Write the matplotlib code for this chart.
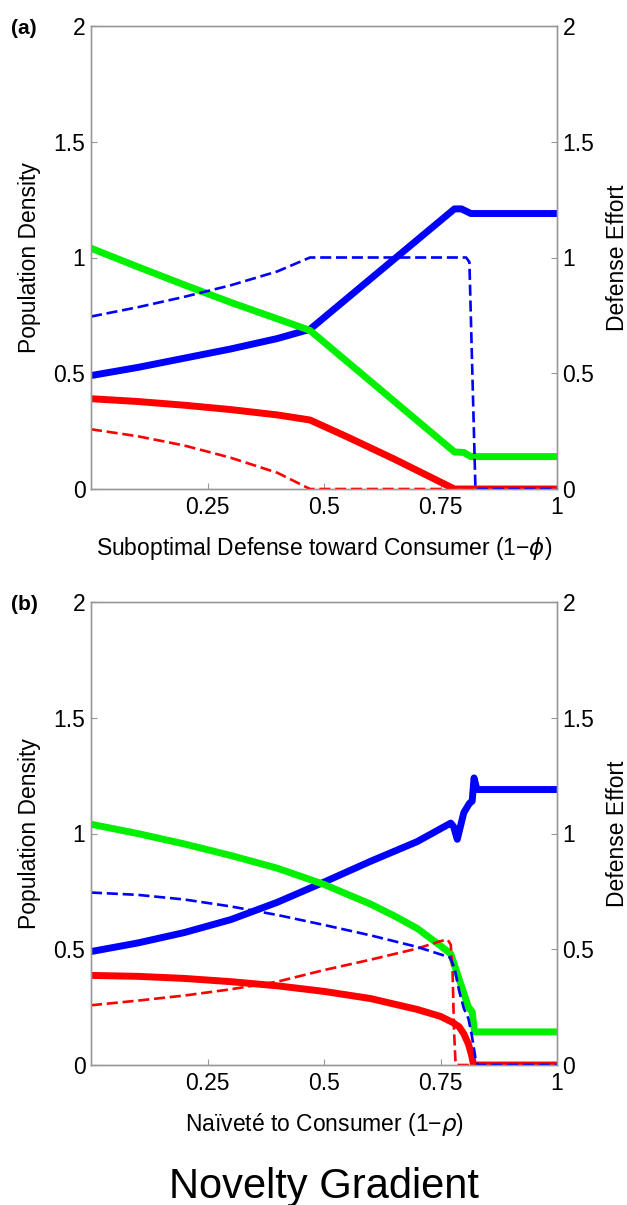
import numpy as np
import matplotlib
matplotlib.use("Agg")
import matplotlib.pyplot as plt

plt.rcParams['font.family'] = ['Liberation Sans', 'DejaVu Sans']

# panel (a): suboptimal defense gradient
xa_blue = [0, 0.1, 0.2, 0.3, 0.4, 0.47, 0.78, 0.795, 0.815, 1]
ya_blue = [0.49, 0.525, 0.565, 0.605, 0.65, 0.69, 1.21, 1.21, 1.19, 1.19]
xa_green = [0, 0.1, 0.2, 0.3, 0.4, 0.47, 0.78, 0.80, 0.815, 1]
ya_green = [1.04, 0.96, 0.882, 0.806, 0.735, 0.685, 0.16, 0.158, 0.14, 0.14]
xa_red = [0, 0.1, 0.2, 0.3, 0.4, 0.47, 0.55, 0.65, 0.78, 1]
ya_red = [0.39, 0.378, 0.362, 0.343, 0.32, 0.298, 0.225, 0.13, 0.0, 0.0]
xa_red_d = [0, 0.1, 0.2, 0.3, 0.4, 0.47, 1]
ya_red_d = [0.258, 0.228, 0.188, 0.135, 0.07, 0.0, 0.0]
xa_blue_d = [0, 0.1, 0.2, 0.3, 0.4, 0.47, 0.805, 0.812, 0.825, 1]
ya_blue_d = [0.745, 0.785, 0.83, 0.88, 0.94, 1.0, 1.0, 0.98, 0.0, 0.0]

# panel (b): naivete gradient
xb_blue = [0, 0.1, 0.2, 0.3, 0.4, 0.5, 0.6, 0.7, 0.772, 0.778, 0.786, 0.80, 0.812, 0.818, 0.822, 0.828, 1]
yb_blue = [0.49, 0.527, 0.572, 0.628, 0.703, 0.79, 0.88, 0.965, 1.045, 1.03, 0.975, 1.09, 1.13, 1.14, 1.24, 1.19, 1.19]
xb_green = [0, 0.1, 0.2, 0.3, 0.4, 0.5, 0.6, 0.65, 0.7, 0.75, 0.772, 0.81, 0.818, 0.823, 1]
yb_green = [1.04, 1.0, 0.955, 0.905, 0.85, 0.78, 0.695, 0.645, 0.59, 0.515, 0.48, 0.25, 0.23, 0.143, 0.143]
xb_red = [0, 0.1, 0.2, 0.3, 0.4, 0.5, 0.6, 0.7, 0.75, 0.775, 0.79, 0.80, 0.81, 0.817, 0.821, 1]
yb_red = [0.387, 0.383, 0.374, 0.36, 0.342, 0.318, 0.287, 0.24, 0.21, 0.185, 0.165, 0.135, 0.09, 0.04, 0.0, 0.0]
xb_blue_d = [0, 0.1, 0.2, 0.3, 0.4, 0.5, 0.6, 0.7, 0.77, 0.78, 0.79, 0.80, 0.81, 0.817, 0.825, 0.83, 1]
yb_blue_d = [0.745, 0.735, 0.715, 0.685, 0.648, 0.605, 0.56, 0.51, 0.465, 0.42, 0.32, 0.245, 0.2, 0.13, 0.03, 0.0, 0.0]
xb_red_d = [0, 0.1, 0.2, 0.3, 0.4, 0.5, 0.6, 0.7, 0.75, 0.765, 0.772, 0.776, 0.779, 0.782, 0.785, 1]
yb_red_d = [0.258, 0.278, 0.3, 0.327, 0.36, 0.41, 0.455, 0.503, 0.535, 0.542, 0.52, 0.4, 0.15, 0.02, 0.0, 0.0]

xticks = [0.25, 0.5, 0.75, 1]
xtick_labels = ['0.25', '0.5', '0.75', '1']
yticks = [0, 0.5, 1, 1.5, 2]
ytick_labels = ['0', '0.5', '1', '1.5', '2']

BLUE = '#0000ff'
GREEN = '#00f000'
RED = '#ff0000'
SPINE = '#999999'
FS = 16.5


def draw_panel(ax, blue, green, red, red_d, blue_d, xlabel):
    ax.plot(*red, color=RED, lw=5, solid_joinstyle='round', zorder=2)
    ax.plot(*blue, color=BLUE, lw=5, solid_joinstyle='round', zorder=2)
    ax.plot(*green, color=GREEN, lw=5, solid_joinstyle='round', zorder=3)
    ax.plot(*red_d, color=RED, lw=1.9, dashes=(4.2, 1.8), zorder=4)
    ax.plot(*blue_d, color=BLUE, lw=1.9, dashes=(4.2, 1.8), zorder=5)

    ax.set_xlim(0, 1)
    ax.set_ylim(0, 2)
    ax.set_xticks(xticks)
    ax.set_xticklabels(xtick_labels)
    ax.set_yticks(yticks)
    ax.set_yticklabels(ytick_labels)
    for s in ax.spines.values():
        s.set_color(SPINE)
        s.set_linewidth(1)
    ax.tick_params(direction='in', length=4, color=SPINE, labelsize=FS, pad=5)
    ax.tick_params(axis='y', pad=4)
    ax.set_ylabel('Population Density', fontsize=FS)
    ax.yaxis.set_label_coords(-0.131, 0.5)
    ax.yaxis.label.set_va('center')
    ax.set_xlabel(xlabel, fontsize=FS)
    ax.xaxis.set_label_coords(0.5, -59 / 463)
    ax.xaxis.label.set_va('center')

    ax2 = ax.twinx()
    ax2.set_ylim(0, 2)
    ax2.set_yticks(yticks)
    ax2.set_yticklabels(ytick_labels)
    for s in ax2.spines.values():
        s.set_color(SPINE)
        s.set_linewidth(1)
    ax2.tick_params(direction='in', length=4, color=SPINE, labelsize=FS, pad=4)
    ax2.set_ylabel('Defense Effort', fontsize=FS)
    ax2.yaxis.set_label_coords(1.129, 0.5)
    ax2.yaxis.label.set_va('center')


fig = plt.figure(figsize=(6.27, 12.05), dpi=100)
W, H = 627, 1205
ax_a = fig.add_axes([91 / W, 1 - 489 / H, 466 / W, 463 / H])
ax_b = fig.add_axes([91 / W, 1 - 1065 / H, 466 / W, 463 / H])

draw_panel(ax_a, (xa_blue, ya_blue), (xa_green, ya_green), (xa_red, ya_red),
           (xa_red_d, ya_red_d), (xa_blue_d, ya_blue_d),
           'Suboptimal Defense toward Consumer (1\u2212$\\phi$)')
draw_panel(ax_b, (xb_blue, yb_blue), (xb_green, yb_green), (xb_red, yb_red),
           (xb_red_d, yb_red_d), (xb_blue_d, yb_blue_d),
           'Na\u00efvet\u00e9 to Consumer (1\u2212$\\rho$)')

fig.text(24 / W, 1 - 28 / H, '(a)', fontsize=15, fontweight='bold', ha='center', va='center')
fig.text(24 / W, 1 - 604 / H, '(b)', fontsize=15, fontweight='bold', ha='center', va='center')
fig.text(324 / W, 1 - 1187 / H, 'Novelty Gradient', fontsize=30, ha='center', va='center')

fig.savefig('out.png', dpi=100)
